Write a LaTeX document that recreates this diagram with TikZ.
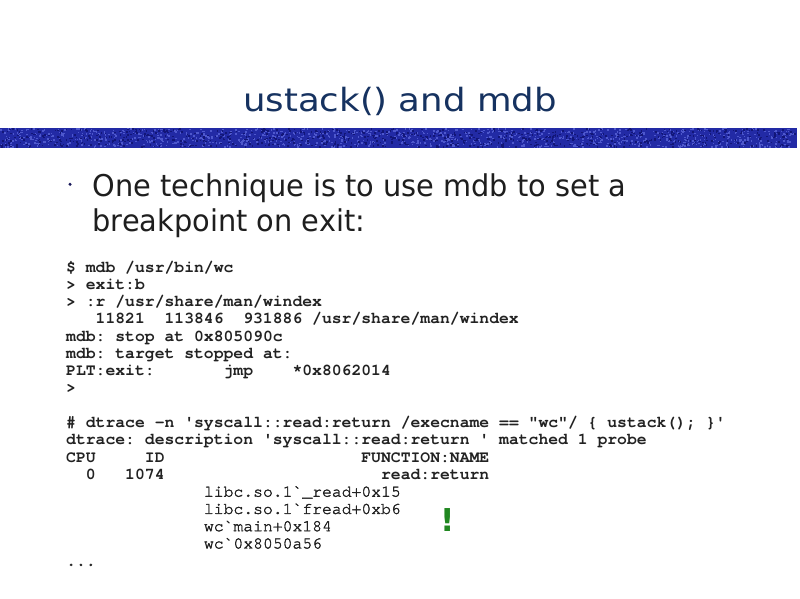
\documentclass[tikz,border=0pt]{standalone}
\usepackage{fontspec}
\usepackage{graphicx}
\setmainfont{DejaVu Sans}
\setmonofont{texgyrecursor}[Extension=.otf, UprightFont=*-regular, BoldFont=*-bold]
\newfontfamily\stackfont{texgyrecursor}[Extension=.otf, UprightFont=*-regular, FakeBold=2]
\definecolor{titleblue}{RGB}{22,50,96}
\definecolor{bandblue}{RGB}{34,42,165}
\definecolor{bandlight}{RGB}{78,88,205}
\definecolor{banddark}{RGB}{18,22,120}
\definecolor{bodytext}{RGB}{30,30,30}
\definecolor{codetext}{RGB}{34,34,34}
\definecolor{bulletblue}{RGB}{25,25,90}
\definecolor{bangreen}{RGB}{32,135,32}
\tikzset{
  titletext/.style={anchor=base, inner sep=0pt, text=titleblue, font=\fontsize{32}{38}\selectfont},
  bodyline/.style={anchor=base west, inner sep=0pt, text=bodytext, font=\fontsize{30}{35}\selectfont},
  codeline/.style={anchor=base west, inner sep=0pt, text=codetext, font=\fontsize{16.4}{17.28}\selectfont\ttfamily\bfseries\frenchspacing},
  stackline/.style={codeline, font=\fontsize{16.4}{17.28}\selectfont\stackfont\frenchspacing},
  bangmark/.style={anchor=base, inner sep=0pt, text=bangreen, font=\fontsize{31.5}{36}\selectfont\bfseries},
  dotbullet/.style={circle, fill=bulletblue, inner sep=0pt, minimum size=3.4pt}
}
\begin{document}
\begin{tikzpicture}[x=1pt,y=-1pt]
\useasboundingbox[fill=white] (0,0) rectangle (800,599);
% textured band
\fill[bandblue] (0,128) rectangle (797,148);
\pgfmathsetseed{11}
\foreach \i in {1,...,1100}{
  \pgfmathsetmacro\xx{rnd*795}
  \pgfmathsetmacro\yy{128+rnd*18.5}
  \fill[bandlight] (\xx,\yy) rectangle ++(1.6,1.5);
}
\foreach \i in {1,...,800}{
  \pgfmathsetmacro\xx{rnd*795}
  \pgfmathsetmacro\yy{128+rnd*18.5}
  \fill[banddark] (\xx,\yy) rectangle ++(1.6,1.5);
}
% title
\node[titletext] (title) at (400,112) {\scalebox{1.11}[1]{ustack() and mdb}};
% bullet
\node[dotbullet] (dot) at (70,184.3) {};
\node[bodyline] (b1) at (92.5,196) {\scalebox{0.96}[1]{One technique is to use mdb to set a}};
\node[bodyline] (b2) at (92.5,231) {\scalebox{0.96}[1]{breakpoint on exit:}};
% code
\node[codeline] (c0) at (66,272) {\$~mdb~/usr/bin/wc};
\node[codeline] (c1) at (66,289.28) {>~exit:b};
\node[codeline] (c2) at (66,306.56) {>~:r~/usr/share/man/windex};
\node[codeline] (c3) at (66,323.84) {~~~11821~~113846~~931886~/usr/share/man/windex};
\node[codeline] (c4) at (66,341.12) {mdb:~stop~at~0x805090c};
\node[codeline] (c5) at (66,358.40) {mdb:~target~stopped~at:};
\node[codeline] (c6) at (66,375.68) {PLT:exit:~~~~~~~jmp~~~~*0x8062014};
\node[codeline] (c7) at (66,392.96) {>};
\node[codeline] (c9) at (66,427.52) {\#~dtrace~-n~'syscall::read:return~/execname~==~"wc"/~\{~ustack();~\}'};
\node[codeline] (c10) at (66,444.80) {dtrace:~description~'syscall::read:return~'~matched~1~probe};
\node[codeline] (c11) at (66,462.08) {CPU~~~~~ID~~~~~~~~~~~~~~~~~~~~FUNCTION:NAME};
\node[codeline] (c12) at (66,479.36) {~~0~~~1074~~~~~~~~~~~~~~~~~~~~~~read:return};
\node[stackline] (c13) at (66,496.64) {~~~~~~~~~~~~~~libc.so.1`\_read+0x15};
\node[stackline] (c14) at (66,513.92) {~~~~~~~~~~~~~~libc.so.1`fread+0xb6};
\node[stackline] (c15) at (66,531.20) {~~~~~~~~~~~~~~wc`main+0x184};
\node[stackline] (c16) at (66,548.48) {~~~~~~~~~~~~~~wc`0x8050a56};
\node[stackline] (c17) at (66,565.76) {...};
% exclamation
\node[bangmark] (bang) at (448,531) {!};
\end{tikzpicture}
\end{document}
